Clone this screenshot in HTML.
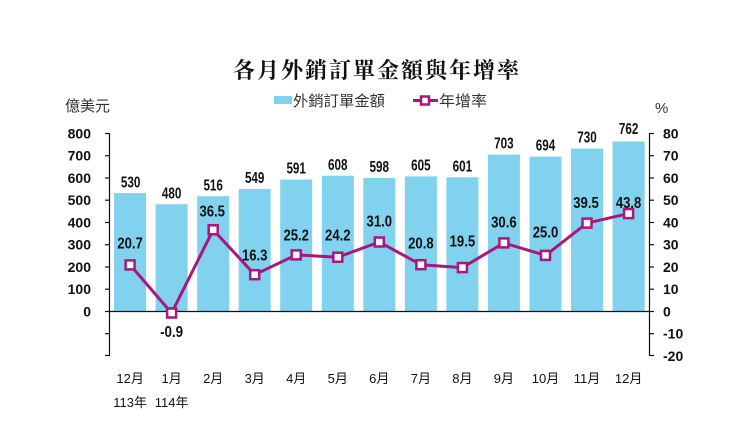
<!DOCTYPE html>
<html>
<head>
<meta charset="utf-8">
<style>
html,body{margin:0;padding:0;background:#fff;}
svg{display:block;}
.ax{font-family:"Liberation Sans",sans-serif;font-weight:bold;font-size:14px;fill:#111;}
.dl{font-family:"Liberation Sans",sans-serif;font-weight:bold;font-size:15.5px;fill:#111;}
.gl{font-family:"Liberation Sans",sans-serif;font-weight:bold;font-size:15.5px;fill:#111;}
.xl{font-family:"Liberation Sans","Noto Sans CJK TC",sans-serif;font-size:13px;fill:#111;}
.lg{font-family:"Liberation Sans","Noto Sans CJK TC",sans-serif;font-size:15px;fill:#333;}
.tt{font-family:"Liberation Serif","Noto Serif CJK SC",serif;font-weight:bold;font-size:22px;fill:#111;letter-spacing:2px;}
</style>
</head>
<body>
<svg width="750" height="422" viewBox="0 0 750 422" xmlns="http://www.w3.org/2000/svg">
<rect width="750" height="422" fill="#fff"/>
<text class="tt" x="377" y="78" text-anchor="middle" textLength="288" lengthAdjust="spacingAndGlyphs">各月外銷訂單金額與年增率</text>

<!-- legend -->
<rect x="274" y="96" width="18" height="8" fill="#80d2ef"/>
<text class="lg" x="293" y="106" textLength="92" lengthAdjust="spacingAndGlyphs">外銷訂單金額</text>
<line x1="413" y1="100.5" x2="438" y2="100.5" stroke="#a8177b" stroke-width="3"/>
<rect x="421" y="96.5" width="8" height="8" fill="#fff" stroke="#a8177b" stroke-width="2.5"/>
<text class="lg" x="439" y="106" textLength="48" lengthAdjust="spacingAndGlyphs">年增率</text>

<text class="lg" x="65" y="111" textLength="45" lengthAdjust="spacingAndGlyphs">億美元</text>
<text class="lg" x="655" y="113">%</text>

<!-- bars -->
<g fill="#80d2ef">
<rect x="114.1" y="193.1" width="32" height="117.9"/>
<rect x="155.6" y="204.2" width="32" height="106.8"/>
<rect x="197.2" y="196.2" width="32" height="114.8"/>
<rect x="238.7" y="188.9" width="32" height="122.1"/>
<rect x="280.2" y="179.5" width="32" height="131.5"/>
<rect x="321.8" y="175.7" width="32" height="135.3"/>
<rect x="363.3" y="178.0" width="32" height="133.0"/>
<rect x="404.9" y="176.4" width="32" height="134.6"/>
<rect x="446.4" y="177.3" width="32" height="133.7"/>
<rect x="487.9" y="154.6" width="32" height="156.4"/>
<rect x="529.5" y="156.6" width="32" height="154.4"/>
<rect x="571.0" y="148.6" width="32" height="162.4"/>
<rect x="612.6" y="141.5" width="32" height="169.5"/>
</g>

<!-- axes -->
<g stroke="#111" stroke-width="1.2" fill="none">
<line x1="109.5" y1="133" x2="109.5" y2="356"/>
<line x1="649.5" y1="133" x2="649.5" y2="356"/>
<line x1="109.5" y1="311.5" x2="649.5" y2="311.5"/>
<line x1="105" y1="133.5" x2="109.5" y2="133.5"/>
<line x1="105" y1="155.7" x2="109.5" y2="155.7"/>
<line x1="105" y1="178" x2="109.5" y2="178"/>
<line x1="105" y1="200.2" x2="109.5" y2="200.2"/>
<line x1="105" y1="222.5" x2="109.5" y2="222.5"/>
<line x1="105" y1="244.7" x2="109.5" y2="244.7"/>
<line x1="105" y1="267" x2="109.5" y2="267"/>
<line x1="105" y1="289.2" x2="109.5" y2="289.2"/>
<line x1="105" y1="311.5" x2="109.5" y2="311.5"/>
<line x1="105" y1="333.7" x2="109.5" y2="333.7"/>
<line x1="105" y1="355.5" x2="109.5" y2="355.5"/>
<line x1="649.5" y1="133.5" x2="654" y2="133.5"/>
<line x1="649.5" y1="155.7" x2="654" y2="155.7"/>
<line x1="649.5" y1="178" x2="654" y2="178"/>
<line x1="649.5" y1="200.2" x2="654" y2="200.2"/>
<line x1="649.5" y1="222.5" x2="654" y2="222.5"/>
<line x1="649.5" y1="244.7" x2="654" y2="244.7"/>
<line x1="649.5" y1="267" x2="654" y2="267"/>
<line x1="649.5" y1="289.2" x2="654" y2="289.2"/>
<line x1="649.5" y1="311.5" x2="654" y2="311.5"/>
<line x1="649.5" y1="333.7" x2="654" y2="333.7"/>
<line x1="649.5" y1="355.5" x2="654" y2="355.5"/>
</g>

<!-- left axis labels -->
<g class="ax" text-anchor="end">
<text x="91" y="138.5">800</text>
<text x="91" y="160.7">700</text>
<text x="91" y="183">600</text>
<text x="91" y="205.2">500</text>
<text x="91" y="227.5">400</text>
<text x="91" y="249.7">300</text>
<text x="91" y="272">200</text>
<text x="91" y="294.2">100</text>
<text x="91" y="316.5">0</text>
</g>
<!-- right axis labels -->
<g class="ax">
<text x="663" y="138.5">80</text>
<text x="663" y="160.7">70</text>
<text x="663" y="183">60</text>
<text x="663" y="205.2">50</text>
<text x="663" y="227.5">40</text>
<text x="663" y="249.7">30</text>
<text x="663" y="272">20</text>
<text x="663" y="294.2">10</text>
<text x="663" y="316.5">0</text>
<text x="663" y="338.7">-10</text>
<text x="663" y="361">-20</text>
</g>

<!-- bar value labels -->
<g class="dl" text-anchor="middle">
<text x="130.6" y="187.4" textLength="19.5" lengthAdjust="spacingAndGlyphs">530</text>
<text x="171.6" y="198.4" textLength="19.5" lengthAdjust="spacingAndGlyphs">480</text>
<text x="213.2" y="190.4" textLength="19.5" lengthAdjust="spacingAndGlyphs">516</text>
<text x="254.7" y="183" textLength="19.5" lengthAdjust="spacingAndGlyphs">549</text>
<text x="296.2" y="173.6" textLength="19.5" lengthAdjust="spacingAndGlyphs">591</text>
<text x="337.8" y="169.8" textLength="19.5" lengthAdjust="spacingAndGlyphs">608</text>
<text x="379.3" y="172.1" textLength="19.5" lengthAdjust="spacingAndGlyphs">598</text>
<text x="420.9" y="170.5" textLength="19.5" lengthAdjust="spacingAndGlyphs">605</text>
<text x="462.4" y="171.4" textLength="19.5" lengthAdjust="spacingAndGlyphs">601</text>
<text x="503.9" y="148.6" textLength="19.5" lengthAdjust="spacingAndGlyphs">703</text>
<text x="545.5" y="150.6" textLength="19.5" lengthAdjust="spacingAndGlyphs">694</text>
<text x="587" y="142.6" textLength="19.5" lengthAdjust="spacingAndGlyphs">730</text>
<text x="628.6" y="134.2" textLength="19.5" lengthAdjust="spacingAndGlyphs">762</text>
</g>

<!-- growth line -->
<polyline fill="none" stroke="#a8177b" stroke-width="3" stroke-linejoin="round"
points="130.1,264.9 171.6,313 213.2,229.8 254.7,274.7 296.2,254.9 337.8,257.2 379.3,242 420.9,264.7 462.4,267.6 503.9,242.9 545.5,255.4 587,223.1 628.6,213.6"/>
<g fill="#fff" stroke="#a8177b" stroke-width="2.5">
<rect x="125.6" y="260.4" width="9" height="9"/>
<rect x="167.1" y="308.5" width="9" height="9"/>
<rect x="208.7" y="225.3" width="9" height="9"/>
<rect x="250.2" y="270.2" width="9" height="9"/>
<rect x="291.7" y="250.4" width="9" height="9"/>
<rect x="333.3" y="252.7" width="9" height="9"/>
<rect x="374.8" y="237.5" width="9" height="9"/>
<rect x="416.4" y="260.2" width="9" height="9"/>
<rect x="457.9" y="263.1" width="9" height="9"/>
<rect x="499.4" y="238.4" width="9" height="9"/>
<rect x="541" y="250.9" width="9" height="9"/>
<rect x="582.5" y="218.6" width="9" height="9"/>
<rect x="624.1" y="209.1" width="9" height="9"/>
</g>

<!-- growth labels -->
<g class="gl" text-anchor="middle">
<text x="130.1" y="248.5" textLength="25.5" lengthAdjust="spacingAndGlyphs">20.7</text>
<text x="171.6" y="337" textLength="23" lengthAdjust="spacingAndGlyphs">-0.9</text>
<text x="212.2" y="216.3" textLength="25.5" lengthAdjust="spacingAndGlyphs">36.5</text>
<text x="254.7" y="260.5" textLength="25.5" lengthAdjust="spacingAndGlyphs">16.3</text>
<text x="296.2" y="240.5" textLength="25.5" lengthAdjust="spacingAndGlyphs">25.2</text>
<text x="337.8" y="240.5" textLength="25.5" lengthAdjust="spacingAndGlyphs">24.2</text>
<text x="379.3" y="226.5" textLength="25.5" lengthAdjust="spacingAndGlyphs">31.0</text>
<text x="420.9" y="248.5" textLength="25.5" lengthAdjust="spacingAndGlyphs">20.8</text>
<text x="462.4" y="246.5" textLength="25.5" lengthAdjust="spacingAndGlyphs">19.5</text>
<text x="503.9" y="227.5" textLength="25.5" lengthAdjust="spacingAndGlyphs">30.6</text>
<text x="545.5" y="237.5" textLength="25.5" lengthAdjust="spacingAndGlyphs">25.0</text>
<text x="586" y="207.8" textLength="25.5" lengthAdjust="spacingAndGlyphs">39.5</text>
<text x="628.6" y="207.8" textLength="25.5" lengthAdjust="spacingAndGlyphs">43.8</text>
</g>

<!-- x labels -->
<g class="xl" text-anchor="middle">
<text x="130.1" y="383">12月</text>
<text x="171.6" y="383">1月</text>
<text x="213.2" y="383">2月</text>
<text x="254.7" y="383">3月</text>
<text x="296.2" y="383">4月</text>
<text x="337.8" y="383">5月</text>
<text x="379.3" y="383">6月</text>
<text x="420.9" y="383">7月</text>
<text x="462.4" y="383">8月</text>
<text x="503.9" y="383">9月</text>
<text x="545.5" y="383">10月</text>
<text x="587" y="383">11月</text>
<text x="628.6" y="383">12月</text>
<text x="130.1" y="407">113年</text>
<text x="171.6" y="407">114年</text>
</g>
</svg>
</body>
</html>
